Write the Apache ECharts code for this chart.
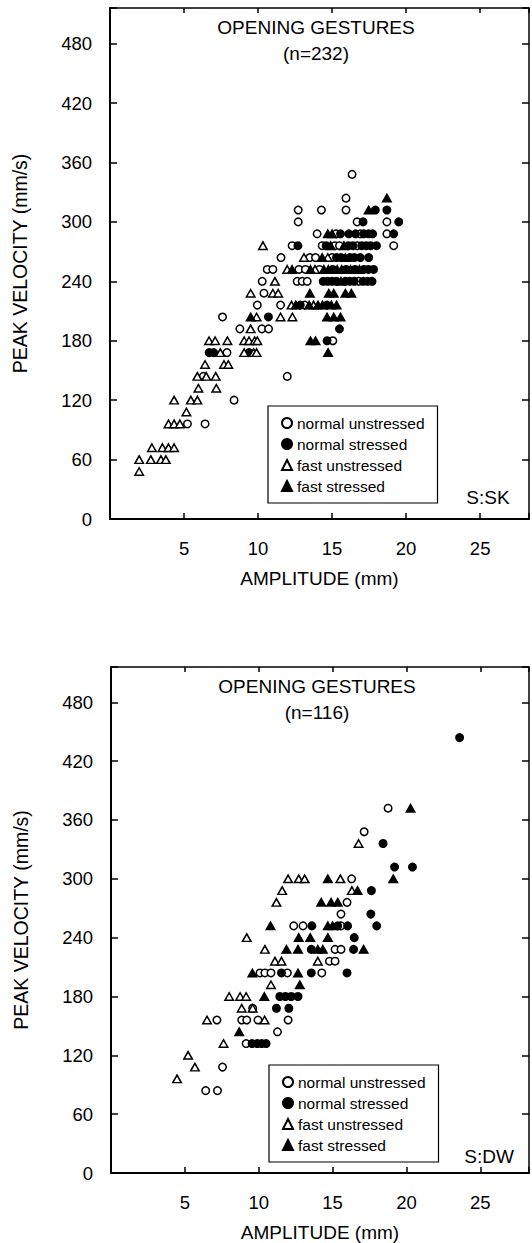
<!DOCTYPE html>
<html>
<head>
<meta charset="utf-8">
<title>Opening gestures: amplitude vs peak velocity</title>
<script src="https://cdn.jsdelivr.net/npm/echarts@6/dist/echarts.min.js"></script>
<style>
  html, body { margin: 0; padding: 0; background: #ffffff; }
  #chart { width: 532px; height: 1243px; }
</style>
</head>
<body>
<div id="chart"></div>
<script>
// Peak velocity (mm/s) against amplitude (mm) of opening gestures,
// split by rate (normal / fast) and stress, for two speakers (SK and DW).

const xTickValues = [5, 10, 15, 20, 25];
const yTickValues = [0, 60, 120, 180, 240, 300, 360, 420, 480];
const seriesNames = ['normal unstressed', 'normal stressed', 'fast unstressed', 'fast stressed'];

// Speaker SK (n=232): [amplitude, peak velocity]
const skNormalUnstressed = [
  [5.23, 96], [6.42, 96], [8.38, 120], [6.3, 144], [11.97, 144], [7.9, 168], [15.05, 180],
  [8.77, 192], [10.26, 192], [10.71, 192], [7.6, 204], [9.95, 216], [11.52, 216], [13.15, 216],
  [10.4, 228], [10.28, 240], [12.64, 240], [12.98, 240], [13.32, 240], [16.8, 240],
  [10.62, 252], [11.0, 252], [12.76, 252], [13.2, 252], [14.15, 252],
  [11.55, 264], [13.5, 264], [13.88, 264], [15.0, 264],
  [12.3, 276], [14.33, 276], [15.2, 276], [15.5, 276], [16.7, 276], [19.16, 276],
  [13.99, 288], [15.27, 288], [16.91, 288], [18.7, 288],
  [12.71, 300], [16.69, 300], [18.7, 300],
  [12.71, 312], [14.28, 312], [15.94, 312], [15.94, 324], [16.35, 348]
];
const skNormalStressed = [
  [6.7, 168], [7.0, 168], [9.4, 168], [14.66, 180], [15.5, 192], [10.7, 204], [12.85, 216], [14.65, 216],
  [14.4, 240], [14.7, 240], [15.0, 240], [15.3, 240], [15.9, 240], [16.2, 240], [16.5, 240],
  [17.1, 240], [17.4, 240], [17.7, 240],
  [15.05, 252], [15.95, 252], [16.55, 252], [17.15, 252], [17.45, 252], [17.8, 252],
  [15.3, 264], [15.6, 264], [16.2, 264], [16.5, 264], [16.9, 264], [17.47, 264],
  [12.69, 276], [14.6, 276], [16.1, 276], [16.4, 276], [17.0, 276], [17.3, 276], [17.6, 276], [18.0, 276],
  [15.57, 288], [16.13, 288], [16.58, 288], [17.14, 288], [17.47, 288], [17.74, 288], [19.16, 288],
  [17.09, 300], [19.5, 300], [17.92, 312], [18.7, 312]
];
const skFastUnstressed = [
  [1.97, 48], [1.97, 60], [2.76, 60], [3.44, 60], [3.77, 60],
  [2.83, 72], [3.54, 72], [3.95, 72], [4.33, 72],
  [3.95, 96], [4.33, 96], [4.72, 96], [5.16, 108],
  [4.33, 120], [5.46, 120], [5.9, 120], [5.97, 132], [7.18, 132],
  [5.9, 144], [6.5, 144], [7.14, 144], [6.42, 156], [7.7, 156], [7.99, 156],
  [7.45, 168], [9.06, 168], [9.7, 168], [9.9, 168],
  [6.69, 180], [7.1, 180], [7.93, 180], [9.06, 180], [9.39, 180], [9.77, 180], [9.95, 180],
  [9.5, 192], [9.9, 204], [11.52, 204], [12.32, 204], [12.26, 216], [13.75, 216],
  [9.5, 228], [11.0, 228], [11.36, 228], [11.14, 240], [11.97, 252], [13.85, 252],
  [13.1, 264], [14.71, 264], [10.33, 276]
];
const skFastStressed = [
  [14.73, 168], [13.54, 180], [13.88, 180], [9.5, 204], [14.66, 204], [15.11, 204], [15.57, 204],
  [12.55, 216], [13.45, 216], [14.05, 216], [14.35, 216], [14.95, 216], [15.3, 216],
  [13.5, 228], [14.78, 228], [15.11, 228], [15.9, 228], [16.3, 228], [15.6, 240],
  [12.3, 252], [13.54, 252], [14.45, 252], [14.75, 252], [15.35, 252], [15.65, 252], [16.25, 252], [16.85, 252],
  [14.33, 264], [15.9, 264], [14.9, 276], [15.8, 276], [14.71, 288], [15.0, 288], [17.47, 312], [18.7, 324]
];

// Speaker DW (n=116): [amplitude, peak velocity]
const dwNormalUnstressed = [
  [18.76, 372], [17.14, 348], [16.29, 300], [15.98, 276], [15.57, 264],
  [12.37, 252], [13.0, 252], [15.57, 252], [15.17, 228], [15.57, 228], [14.79, 216], [15.17, 216],
  [10.09, 204], [10.42, 204], [10.83, 204], [11.94, 204], [14.27, 204],
  [9.59, 168], [7.17, 156], [8.85, 156], [9.19, 156], [9.95, 156], [11.99, 156],
  [11.27, 144], [9.15, 132], [7.55, 108], [6.41, 84], [7.21, 84]
];
const dwNormalStressed = [
  [23.6, 444], [18.42, 336], [19.2, 312], [20.41, 312], [17.63, 288], [17.59, 264],
  [13.6, 252], [15.35, 252], [16.02, 252], [17.99, 252], [16.47, 240], [13.56, 228], [16.42, 228],
  [11.54, 204], [13.56, 204], [15.98, 204], [11.43, 180], [11.8, 180], [12.2, 180], [12.66, 180],
  [11.2, 168], [12.04, 168], [9.55, 132], [9.9, 132], [10.2, 132], [10.5, 132]
];
const dwFastUnstressed = [
  [16.76, 336], [11.99, 300], [12.71, 300], [13.11, 300], [15.53, 300], [11.59, 288], [16.31, 288],
  [11.2, 276], [9.19, 240], [10.42, 228], [11.1, 216], [11.54, 216], [14.0, 216], [10.83, 192],
  [8.0, 180], [8.74, 180], [9.15, 180], [8.85, 168], [9.59, 168], [6.5, 156], [10.4, 156],
  [7.62, 132], [5.22, 120], [5.68, 108], [4.47, 96]
];
const dwFastStressed = [
  [20.28, 372], [14.68, 300], [19.11, 300], [16.69, 288], [14.23, 276], [14.9, 276], [15.35, 276],
  [10.8, 252], [14.68, 252], [15.0, 252], [12.71, 240], [13.49, 240], [14.68, 240],
  [11.88, 228], [12.66, 228], [14.0, 228], [14.34, 228], [17.1, 228], [9.57, 204], [12.66, 204],
  [12.78, 192], [10.38, 180], [8.68, 144]
];

const FONT = "'Liberation Sans', Arial, Helvetica, sans-serif";
const INK = '#000000';
const X_MAX = 28.3;
const Y_MAX = 516;

const panels = [
  { grid: { left: 110, top: 8, width: 420, height: 511 },
    title: 'OPENING GESTURES', count: '(n=232)', speaker: 'S:SK',
    data: [skNormalUnstressed, skNormalStressed, skFastUnstressed, skFastStressed] },
  { grid: { left: 111, top: 667, width: 420, height: 511 },
    title: 'OPENING GESTURES', count: '(n=116)', speaker: 'S:DW',
    data: [dwNormalUnstressed, dwNormalStressed, dwFastUnstressed, dwFastStressed] }
];

// marker look per group: open / filled circle, open / filled triangle
const markerStyles = [
  { symbol: 'circle', size: 7.5, fill: '#ffffff' },
  { symbol: 'circle', size: 7.5, fill: INK },
  { symbol: 'triangle', size: [8.5, 7.5], fill: '#ffffff' },
  { symbol: 'triangle', size: [8.5, 7.5], fill: INK }
];

const grids = [], xAxes = [], yAxes = [], series = [], legends = [], texts = [];

panels.forEach((p, i) => {
  grids.push(Object.assign({ containLabel: false }, p.grid));
  const base = { gridIndex: i, min: 0, splitLine: { show: false } };

  // bottom amplitude axis with labels
  xAxes.push(Object.assign({}, base, {
    type: 'value', position: 'bottom', max: X_MAX, interval: 5,
    axisLine: { show: true, onZero: false, lineStyle: { color: INK, width: 2 } },
    axisTick: { show: true, inside: true, length: 6, lineStyle: { color: INK, width: 1.5 } },
    axisLabel: { show: true, margin: 20, color: INK, fontSize: 18.5, fontFamily: FONT,
      formatter: v => (xTickValues.indexOf(v) >= 0 ? String(v) : '') },
    name: 'AMPLITUDE (mm)', nameLocation: 'middle', nameGap: 50,
    nameTextStyle: { color: INK, fontSize: 19, fontFamily: FONT }
  }));
  // top border of the frame
  xAxes.push(Object.assign({}, base, {
    type: 'value', position: 'top', max: X_MAX, interval: 5,
    axisLine: { show: true, onZero: false, lineStyle: { color: INK, width: 1.5 } },
    axisTick: { show: true, inside: true, length: 5, lineStyle: { color: INK, width: 1.5 } },
    axisLabel: { show: false }
  }));
  // left velocity axis with labels
  yAxes.push(Object.assign({}, base, {
    type: 'value', position: 'left', max: Y_MAX, interval: 60,
    axisLine: { show: true, onZero: false, lineStyle: { color: INK, width: 2 } },
    axisTick: { show: true, inside: true, length: 7, lineStyle: { color: INK, width: 1.5 } },
    axisLabel: { show: true, margin: 18, color: INK, fontSize: 18.5, fontFamily: FONT,
      formatter: v => (yTickValues.indexOf(v) >= 0 ? String(v) : '') },
    name: 'PEAK VELOCITY (mm/s)', nameLocation: 'middle', nameGap: 80,
    nameTextStyle: { color: INK, fontSize: 19.5, fontFamily: FONT }
  }));
  // right border of the frame
  yAxes.push(Object.assign({}, base, {
    type: 'value', position: 'right', max: Y_MAX, interval: 60,
    axisLine: { show: true, onZero: false, lineStyle: { color: INK, width: 1.5 } },
    axisTick: { show: true, inside: true, length: 7, lineStyle: { color: INK, width: 1.5 } },
    axisLabel: { show: false }
  }));

  p.data.forEach((values, k) => {
    const m = markerStyles[k];
    series.push({
      name: seriesNames[k], type: 'scatter',
      xAxisIndex: i * 2, yAxisIndex: i * 2,
      symbol: m.symbol, symbolSize: m.size,
      itemStyle: { color: m.fill, borderColor: INK, borderWidth: 1.5, opacity: 1 },
      emphasis: { disabled: true },
      data: values
    });
  });

  const g = p.grid;
  legends.push({
    orient: 'vertical', left: g.left + 158, top: g.top + 398,
    data: seriesNames, selectedMode: false,
    itemWidth: 10, itemHeight: 10, itemGap: 3,
    padding: [8, 13, 8, 13],
    borderColor: INK, borderWidth: 1.2, backgroundColor: '#ffffff',
    textStyle: { color: INK, fontSize: 15.5, lineHeight: 18, fontFamily: FONT }
  });

  const titleX = g.left + 206;
  texts.push(
    { type: 'text', x: titleX, y: g.top + 19, style: { text: p.title, fill: INK, font: '19px ' + FONT, textAlign: 'center', textVerticalAlign: 'middle' } },
    { type: 'text', x: titleX, y: g.top + 45, style: { text: p.count, fill: INK, font: '19px ' + FONT, textAlign: 'center', textVerticalAlign: 'middle' } },
    { type: 'text', x: g.left + 378, y: g.top + 489, style: { text: p.speaker, fill: INK, font: '19px ' + FONT, textAlign: 'center', textVerticalAlign: 'middle' } }
  );
});

const chart = echarts.init(document.getElementById('chart'), null, { renderer: 'svg', width: 532, height: 1243 });
chart.setOption({
  animation: false,
  backgroundColor: '#ffffff',
  textStyle: { fontFamily: FONT, color: INK },
  grid: grids,
  xAxis: xAxes,
  yAxis: yAxes,
  legend: legends,
  series: series,
  graphic: texts
});
</script>
</body>
</html>
